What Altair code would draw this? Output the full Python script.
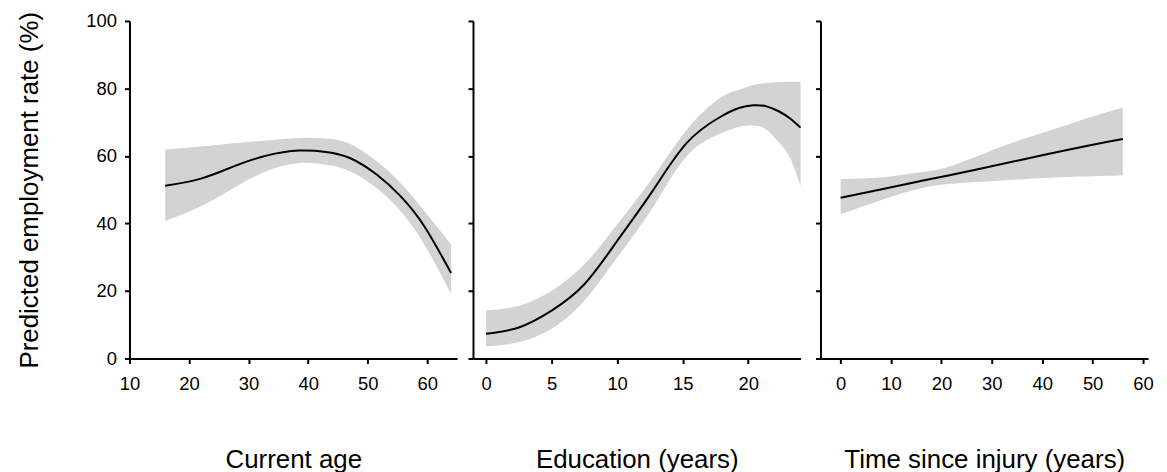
import altair as alt
import pandas as pd

# Panel 1: Current age
age_x = [16, 22, 27.5, 33, 38.5, 43, 47, 51.5, 55.5, 59.5, 64]
age_fit = [51.2, 53.3, 56.9, 60.1, 61.6, 61.2, 59.4, 54.5, 48.1, 39.2, 25.3]
age_hi = [61.9, 62.8, 63.8, 64.6, 65.3, 65.2, 63.6, 58.4, 52.0, 43.7, 33.8]
age_lo = [40.7, 45.1, 50.5, 55.5, 57.9, 57.4, 55.5, 50.5, 43.7, 33.8, 19.1]

# Panel 2: Education (years)
edu_x = [0, 2.5, 5, 7.5, 10, 12.7, 15.3, 17.8, 19.3, 20.4, 21.4, 22.4, 23.2, 24]
edu_fit = [7.3, 9.2, 14.2, 22.0, 34.8, 49.6, 63.8, 71.4, 74.2, 75.0, 74.7, 73.1, 71.1, 68.4]
edu_hi = [14.2, 15.6, 20.1, 27.9, 39.7, 53.5, 67.7, 77.0, 79.6, 81.0, 81.6, 81.9, 82.0, 82.0]
edu_lo = [3.6, 4.8, 8.8, 17.1, 29.9, 44.6, 59.9, 66.5, 68.6, 69.0, 67.8, 63.8, 59.4, 51.0]

# Panel 3: Time since injury (years)
t_x = [0, 8.4, 15, 21.6, 32, 40, 50, 56]
t_fit = [47.6, 50.2, 52.3, 54.3, 57.6, 60.2, 63.3, 65.0]
t_hi = [53.2, 53.7, 55.0, 56.9, 62.8, 66.8, 71.7, 74.3]
t_lo = [42.7, 47.1, 50.1, 51.7, 52.7, 53.5, 54.0, 54.2]

y_ticks = [0, 20, 40, 60, 80, 100]
age_ticks = [10, 20, 30, 40, 50, 60]
edu_ticks = [0, 5, 10, 15, 20]
t_ticks = [0, 10, 20, 30, 40, 50, 60]

FONT = "Liberation Sans"


def panel(x, fit, lo, hi, xdom, xticks, xtitle, first):
    df = pd.DataFrame({"x": x, "fit": fit, "lo": lo, "hi": hi})
    xenc = alt.X(
        "x:Q",
        scale=alt.Scale(domain=xdom, nice=False, zero=False),
        axis=alt.Axis(values=xticks, format="d", labelFlush=False),
        title=xtitle,
    )
    yscale = alt.Scale(domain=[0, 100], nice=False)
    if first:
        yenc = alt.Y("lo:Q", scale=yscale, axis=alt.Axis(values=y_ticks),
                     title="Predicted employment rate (%)")
    else:
        yenc = alt.Y("lo:Q", scale=yscale, axis=alt.Axis(values=y_ticks, labels=False),
                     title=None)
    band = alt.Chart(df).mark_area(color="#d3d3d3", interpolate="natural").encode(
        x=xenc, y=yenc, y2="hi:Q"
    )
    line = alt.Chart(df).mark_line(color="black", strokeWidth=2, interpolate="natural").encode(
        x="x:Q", y="fit:Q"
    )
    return alt.layer(band, line).properties(width=329, height=339)


p1 = panel(age_x, age_fit, age_lo, age_hi, [10, 65], age_ticks, "Current age", True)
p2 = panel(edu_x, edu_fit, edu_lo, edu_hi, [-1, 24], edu_ticks, "Education (years)", False)
p3 = panel(t_x, t_fit, t_lo, t_hi, [-4, 61], t_ticks, "Time since injury (years)", False)

chart = (
    alt.hconcat(p1, p2, p3, spacing=10)
    .properties(padding={"left": 8, "top": 2, "right": 5, "bottom": 0})
    .configure_view(strokeWidth=0)
    .configure_axis(
        grid=False,
        domainColor="black",
        domainWidth=2,
        tickColor="black",
        tickWidth=2,
        tickSize=5,
        labelFont=FONT,
        labelFontSize=18.5,
        labelColor="black",
        titleFont=FONT,
        titleFontSize=26,
        titleFontWeight="normal",
        titleColor="black",
    )
    .configure_axisX(labelPadding=11, titlePadding=54)
    .configure_axisY(labelPadding=8, titlePadding=44)
)

chart.save("out.html", embed_options={"renderer": "svg", "actions": False})
